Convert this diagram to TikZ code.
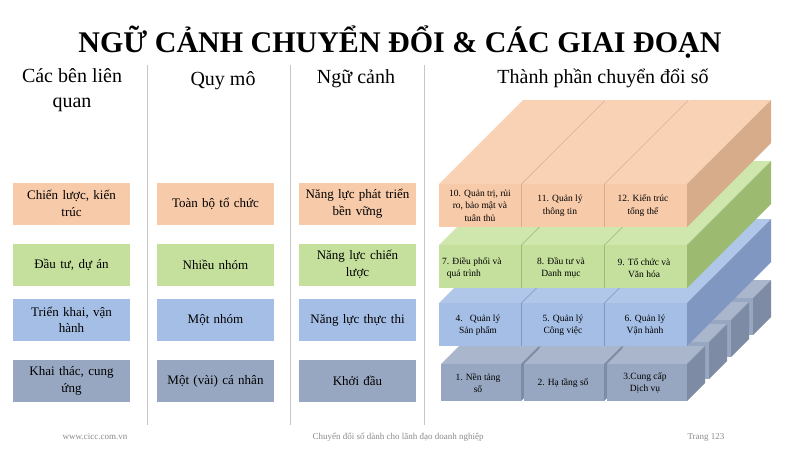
\documentclass[tikz,border=0pt]{standalone}
\usepackage{fontspec}
\setmainfont{Liberation Serif}
\usetikzlibrary{positioning}
\definecolor{orngFront}{HTML}{F7CAA9}
\definecolor{orngTop}{HTML}{F9D2B5}
\definecolor{orngSide}{HTML}{D6AC8B}
\definecolor{grnFront}{HTML}{C5E09D}
\definecolor{grnTop}{HTML}{CFE6AD}
\definecolor{grnSide}{HTML}{9CBB71}
\definecolor{bluFront}{HTML}{A5BEE5}
\definecolor{bluTop}{HTML}{B1C7EA}
\definecolor{bluSide}{HTML}{7F97C1}
\definecolor{gryFront}{HTML}{98A7C1}
\definecolor{gryTop}{HTML}{AAB6CC}
\definecolor{grySide}{HTML}{7D8BA5}
\definecolor{footGray}{HTML}{8A8A8A}
\tikzset{
    slab/.pic={
		\fill[#1Top] (0,0) -- (84,-84) -- (166,-84) -- (82,0) -- cycle;
		\fill[#1Side] (82,0) -- (166,-84) -- (166,-41) -- (82,43) -- cycle;
		\fill[#1Front] (0,0) rectangle (82,43);
	}
}
\tikzset{
    cube/.pic={
		\fill[#1Top] (0,0) -- (18,-18) -- (98,-18) -- (80,0) -- cycle;
		\fill[#1Side] (80,0) -- (98,-18) -- (98,19) -- (80,37) -- cycle;
		\fill[#1Front] (0,0) rectangle (80,37);
	}
}
\tikzset{
    sideBox/.style={fill=#1, minimum width=117pt, minimum height=42pt, text width=110pt,
        align=center, inner sep=0pt, font=\fontsize{13}{16.5}\selectfont},
    header/.style={align=center, font=\fontsize{20}{25}\selectfont},
    slabText/.style={align=center, inner sep=0pt, font=\fontsize{9.5}{12.5}\selectfont},
    footText/.style={text=footGray, font=\fontsize{9}{11}\selectfont},
    sepLine/.style={draw=gray!45, line width=0.6pt}
}

\begin{document}
\begin{tikzpicture}[x=1pt,y=-1pt]
	\useasboundingbox (0,0) rectangle (800,450);
	\node[font=\bfseries\fontsize{30}{34}\selectfont] (title) at (400,42) {NGỮ CẢNH CHUYỂN ĐỔI \& CÁC GIAI ĐOẠN};
	% column headers
	\node[header] (hStake) at (72,90) {Các bên liên\\quan};
	\node[header] (hScale) at (223,81) {Quy mô};
	\node[header] (hCtx) at (356,79) {Ngữ cảnh};
	\node[header] (hComp) at (603,78) {Thành phần chuyển đổi số};
	\draw[sepLine] (147,65) -- (147,425);
	\draw[sepLine] (290,65) -- (290,425);
	\draw[sepLine] (424,65) -- (424,425);
	% left columns
	\node[sideBox=orngFront] (stakeA) at (71.5,203.5) {Chiến lược, kiến\\trúc};
	\node[sideBox=grnFront] (stakeB) at (71.5,264.5) {Đầu tư, dự án};
	\node[sideBox=bluFront] (stakeC) at (71.5,320) {Triển khai, vận\\hành};
	\node[sideBox=gryFront] (stakeD) at (71.5,381) {Khai thác, cung\\ứng};
	\node[sideBox=orngFront] (scaleA) at (215.5,203.5) {Toàn bộ tổ chức};
	\node[sideBox=grnFront] (scaleB) at (215.5,264.5) {Nhiều nhóm};
	\node[sideBox=bluFront] (scaleC) at (215.5,320) {Một nhóm};
	\node[sideBox=gryFront] (scaleD) at (215.5,381) {Một (vài) cá nhân};
	\node[sideBox=orngFront] (ctxA) at (357.5,203.5) {Năng lực phát triển\\bền vững};
	\node[sideBox=grnFront] (ctxB) at (357.5,264.5) {Năng lực chiến\\lược};
	\node[sideBox=bluFront] (ctxC) at (357.5,320) {Năng lực thực thi};
	\node[sideBox=gryFront] (ctxD) at (357.5,381) {Khởi đầu};
	% 3D blocks, back to front, bottom to top
	\foreach \r in {3,2,1,0}
		\foreach \k in {0,1,2}
			\pic at ({441+83*\k+22*\r},{364-22*\r}) {cube=gry};
	\foreach \k in {0,1,2}
		\pic at ({439+83*\k},303) {slab=blu};
	\foreach \k in {0,1,2}
		\pic at ({439+83*\k},245) {slab=grn};
	\foreach \k in {0,1,2}
		\pic at ({439+83*\k},184) {slab=orng};
	\node[slabText] (comp10) at (480,205.5) {10. Quản trị, rủi\\ro, bảo mật và\\tuân thủ};
	\node[slabText] (comp11) at (560,205.5) {11. Quản lý\\thông tin};
	\node[slabText] (comp12) at (643,205.5) {12. Kiến trúc\\tổng thể};
	\node[slabText, align=left, anchor=west] (comp7) at (442,268) {7. Điều phối và\\\ \ quá trình};
	\node[slabText] (comp8) at (561,268) {8. Đầu tư và\\Danh mục};
	\node[slabText] (comp9) at (644,268) {9. Tổ chức và\\Văn hóa};
	\node[slabText] (comp4) at (478,325) {4.\ \ \ Quản lý\\Sản phẩm};
	\node[slabText] (comp5) at (563,325) {5. Quản lý\\Công việc};
	\node[slabText] (comp6) at (645,325) {6. Quản lý\\Vận hành};
	\node[slabText] (comp1) at (478,383) {1. Nền tảng\\số};
	\node[slabText] (comp2) at (563,383) {2. Hạ tầng số};
	\node[slabText] (comp3) at (645,383) {3.Cung cấp\\Dịch vụ};
	% footer
	\node[footText] (footWeb) at (95,437) {www.cicc.com.vn};
	\node[footText] (footMid) at (398,437) {Chuyển đổi số dành cho lãnh đạo doanh nghiệp};
	\node[footText] (footPage) at (706,437) {Trang 123};
\end{tikzpicture}
\end{document}
